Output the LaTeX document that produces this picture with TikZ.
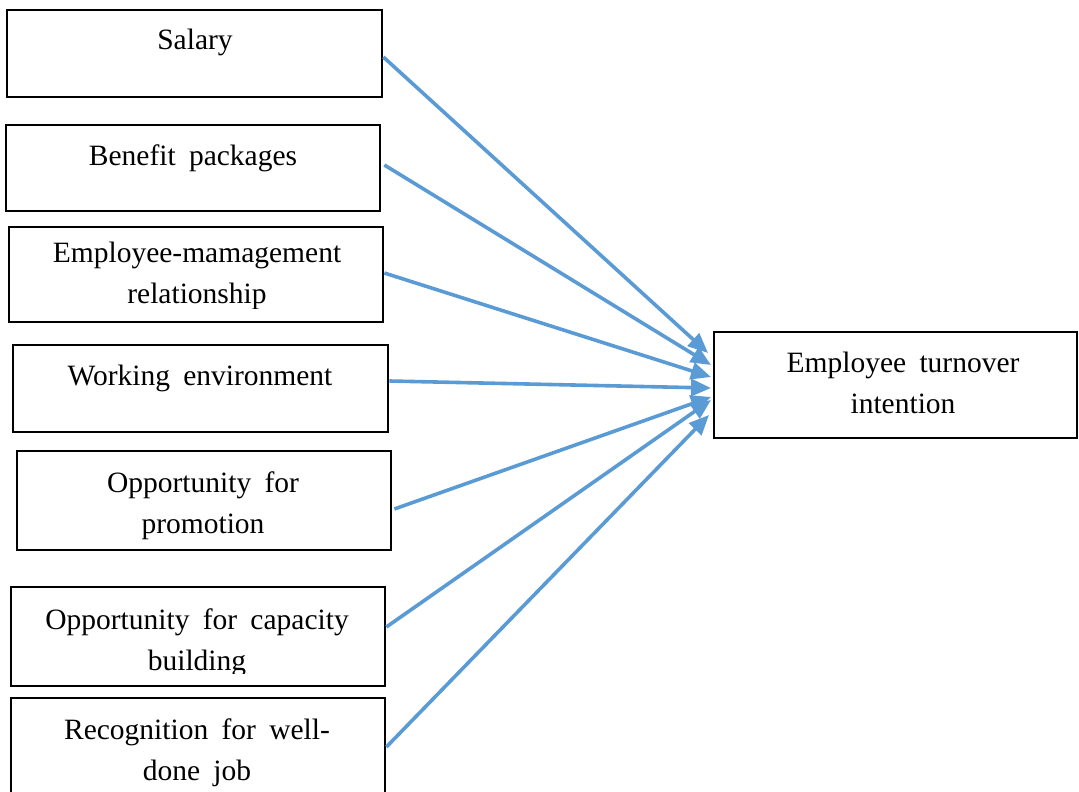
\documentclass[tikz,border=0pt]{standalone}
\usepackage{fontspec}
\setmainfont{Liberation Serif}[WordSpace=1.8]
\usetikzlibrary{arrows.meta}
\definecolor{arrowblue}{HTML}{5B9BD5}
\begin{document}
\begin{tikzpicture}[x=1pt,y=-1pt,
  box/.style={draw=black, line width=2.7pt, rectangle, inner sep=0pt},
  boxtext/.style={anchor=base, align=center, inner sep=0pt,
    font=\fontsize{29.5}{41}\selectfont},
  link/.style={draw=arrowblue, line width=3.6pt,
    -{Triangle[length=20pt,width=17pt]}}
]
\useasboundingbox (0,0) rectangle (1079,792);

% factor boxes
\node[box, minimum width=375pt, minimum height=87pt]  (salary)      at (194.5,53.5) {};
\node[box, minimum width=374pt, minimum height=86pt]  (benefit)     at (193,168)    {};
\node[box, minimum width=374pt, minimum height=95pt]  (empmgmt)     at (196,274.5)  {};
\node[box, minimum width=375pt, minimum height=87pt]  (working)     at (200.5,388.5){};
\node[box, minimum width=374pt, minimum height=99pt]  (promotion)   at (204,500.5)  {};
\node[box, minimum width=374pt, minimum height=99pt]  (capacity)    at (198,636.5)  {};
\node[box, minimum width=374pt, minimum height=102pt] (recognition) at (198,749)    {};

% outcome box
\node[box, minimum width=363pt, minimum height=106pt] (turnover) at (895.5,385) {};

% box texts (multi-line texts are anchored at the baseline of their last line)
\node[boxtext] (salarytext)    at (195,50)  {Salary};
\node[boxtext] (benefittext)   at (193,165) {Benefit packages};
\begin{scope}
  \clip (9,227) rectangle (383,308);
  \node[boxtext] (empmgmttext) at (197,303) {Employee-mamagement\\relationship};
\end{scope}
\node[boxtext] (workingtext)   at (200,385) {Working environment};
\node[boxtext] (promotiontext) at (203,533) {Opportunity for\\promotion};
\begin{scope}
  \clip (11,587) rectangle (385,673);
  \node[boxtext] (capacitytext) at (197,670) {Opportunity for capacity\\building};
\end{scope}
\node[boxtext] (recognitiontext) at (197,780) {Recognition for well-\\done job};
\node[boxtext] (turnovertext)  at (903,413) {Employee turnover\\intention};

% arrow ends just left of the outcome box
\coordinate (t1) at (708,353);
\coordinate (t2) at (711,365);
\coordinate (t3) at (711,377);
\coordinate (t4) at (711,388);
\coordinate (t5) at (711,397);
\coordinate (t6) at (711,400);
\coordinate (t7) at (709,415);

% connectors
\draw[link] ([yshift=-3.5pt]salary.east)    -- (t1);
\draw[link] ([xshift=3pt,yshift=3pt]benefit.east) -- (t2);
\draw[link] ([yshift=1.5pt]empmgmt.east)    -- (t3);
\draw[link] ([yshift=7.5pt]working.east)    -- (t4);
\draw[link] ([xshift=2pt,yshift=-8.5pt]promotion.east) -- (t5);
\draw[link] ([yshift=9.5pt]capacity.east)   -- (t6);
\draw[link] ([yshift=2pt]recognition.east)  -- (t7);
\end{tikzpicture}
\end{document}
